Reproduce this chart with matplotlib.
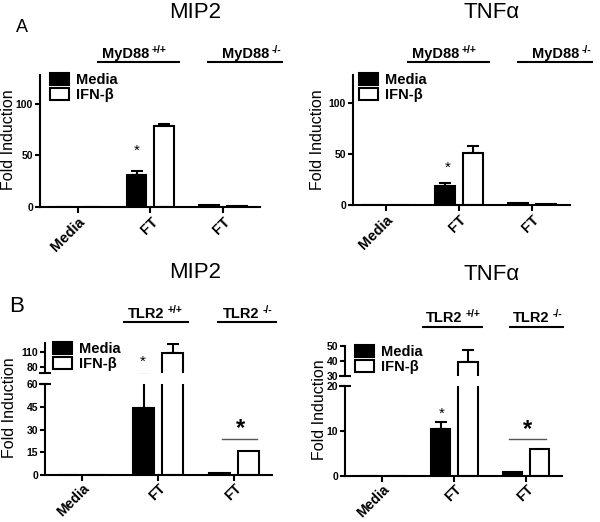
import numpy as np
import matplotlib
matplotlib.use("Agg")
import matplotlib.pyplot as plt
from matplotlib.patches import Patch

plt.rcParams['font.family'] = ['Liberation Sans', 'DejaVu Sans']

# ---------------- data ----------------
categories = ['Media', 'FT', 'FT']
series_labels = ['Media', 'IFN-β']

A_mip2_media = [0, 31, 1.5]
A_mip2_media_err = [0, 4, 0]
A_mip2_ifn = [0, 79, 1.0]
A_mip2_ifn_err = [0, 1.5, 0]

A_tnf_media = [0, 19, 1.5]
A_tnf_media_err = [0, 3, 0]
A_tnf_ifn = [0, 51, 1.0]
A_tnf_ifn_err = [0, 7, 0]

B_mip2_media = [0, 44, 1.5]
B_mip2_media_err = [0, 20, 0]
B_mip2_ifn = [0, 108, 16]
B_mip2_ifn_err = [0, 19, 0]

B_tnf_media = [0, 10.5, 1.0]
B_tnf_media_err = [0, 1.5, 0]
B_tnf_ifn = [0, 39.5, 6.0]
B_tnf_ifn_err = [0, 8, 0]

A_yticks = [0, 50, 100]
B_mip2_low_ticks = [0, 15, 30, 45, 60]
B_mip2_high_ticks = [80, 110]
B_tnf_low_ticks = [0, 10, 20]
B_tnf_high_ticks = [30, 40, 50]

# ---------------- layout ----------------
W, H = 600, 522
fig = plt.figure(figsize=(W / 100, H / 100), dpi=100)
LW = 1.5


def rect(x0, y0, x1, y1):
    return [x0 / W, 1 - y1 / H, (x1 - x0) / W, (y1 - y0) / H]


def fx(x):
    return x / W


def fy(y):
    return 1 - y / H


OFF = 0.19
BW = 0.27


def draw_bars(ax, media, media_err, ifn, ifn_err):
    x = np.arange(len(categories))
    media = np.array(media, float)
    ifn = np.array(ifn, float)
    me = np.array(media_err, float)
    ie = np.array(ifn_err, float)
    ax.bar(x - OFF, media, BW, color='black', edgecolor='black', linewidth=LW, zorder=2)
    ax.bar(x + OFF, ifn, BW, color='white', edgecolor='black', linewidth=LW, zorder=2)
    m = me > 0
    ax.errorbar((x - OFF)[m], media[m], yerr=[np.zeros(m.sum()), me[m]], fmt='none',
                ecolor='black', elinewidth=LW, capsize=4.5, capthick=LW, zorder=1)
    m = ie > 0
    ax.errorbar((x + OFF)[m], ifn[m], yerr=[np.zeros(m.sum()), ie[m]], fmt='none',
                ecolor='black', elinewidth=LW, capsize=4.5, capthick=LW, zorder=1)


def style_axis(ax, xlim, ylim, yticks, show_x=True, xfs=10.5, xpad=1.5):
    ax.set_xlim(*xlim)
    ax.set_ylim(*ylim)
    ax.set_yticks(yticks)
    ax.set_yticklabels([str(t) for t in yticks], fontsize=7.5, fontweight='bold')
    for s in ['top', 'right']:
        ax.spines[s].set_visible(False)
    ax.spines['left'].set_linewidth(LW)
    ax.spines['bottom'].set_linewidth(LW)
    ax.tick_params(axis='y', length=3.5, width=LW, pad=1.5)
    if show_x:
        ax.set_xticks(np.arange(len(categories)))
        ax.set_xticklabels(categories, rotation=45, ha='right', rotation_mode='anchor',
                           fontsize=xfs, fontweight='bold')
        ax.tick_params(axis='x', length=4, width=LW, pad=xpad)
    else:
        ax.spines['bottom'].set_visible(False)
        ax.set_xticks([])
    ax.patch.set_alpha(0)


def add_legend(ax, x_left, y_top):
    handles = [Patch(facecolor='black', edgecolor='black', linewidth=LW),
               Patch(facecolor='white', edgecolor='black', linewidth=LW)]
    leg = ax.legend(handles, series_labels, loc='upper left',
                    bbox_to_anchor=(fx(x_left), fy(y_top)), bbox_transform=fig.transFigure,
                    frameon=False, borderaxespad=0, borderpad=0,
                    prop={'size': 10.5, 'weight': 'bold'},
                    handlelength=1.3, handleheight=0.82, handletextpad=0.45,
                    labelspacing=0.08)
    return leg


overlay = fig.add_axes([0, 0, 1, 1], zorder=10)
overlay.set_xlim(0, W)
overlay.set_ylim(H, 0)
overlay.axis('off')
overlay.patch.set_alpha(0)


def group_label(x_text, y_base, main, sup, x0, x1, y_line):
    t = overlay.text(x_text, y_base, main, fontsize=10.5, fontweight='bold',
                     ha='left', va='baseline')
    overlay.annotate(sup, xy=(1, 0), xycoords=t, xytext=(2, 5.5), textcoords='offset points',
                     fontsize=7.5, fontweight='bold', ha='left', va='baseline')
    overlay.plot([x0, x1], [y_line, y_line], color='black', lw=LW, solid_capstyle='butt')


def break_caps(ax, where):
    ax.plot([0], [where], marker='_', markersize=8, mew=LW, color='black',
            transform=ax.transAxes, clip_on=False)


# ---------- Panel A, MIP2 ----------
axA1 = fig.add_axes(rect(40, 75, 260, 207))
draw_bars(axA1, A_mip2_media, A_mip2_media_err, A_mip2_ifn, A_mip2_ifn_err)
style_axis(axA1, (-0.52, 2.51), (0, 128), A_yticks)
add_legend(axA1, 50, 73)
axA1.text(0.81, 55, '*', ha='center', va='center', fontsize=11)

# ---------- Panel A, TNFa ----------
axA2 = fig.add_axes(rect(353, 75, 570, 205))
draw_bars(axA2, A_tnf_media, A_tnf_media_err, A_tnf_ifn, A_tnf_ifn_err)
style_axis(axA2, (-0.45, 2.52), (0, 128), A_yticks)
add_legend(axA2, 359, 73)
axA2.text(0.84, 37, '*', ha='center', va='center', fontsize=11)

# ---------- Panel B, MIP2 (broken axis) ----------
axB1 = fig.add_axes(rect(45, 384, 272, 475))
axB1h = fig.add_axes(rect(45, 343, 272, 373))
for ax in (axB1, axB1h):
    draw_bars(ax, B_mip2_media, B_mip2_media_err, B_mip2_ifn, B_mip2_ifn_err)
style_axis(axB1, (-0.49, 2.5), (0, 60), B_mip2_low_ticks, xfs=10, xpad=0.5)
style_axis(axB1h, (-0.49, 2.5), (68, 128), B_mip2_high_ticks, show_x=False)
break_caps(axB1, 1)
break_caps(axB1h, 0)
add_legend(axB1h, 53, 342)
axB1h.text(0.80, 90, '*', ha='center', va='center', fontsize=11)
axB1.plot([1.84, 2.30], [24, 24], color='#555555', lw=1.0)
axB1.text(2.08, 30.5, '*', ha='center', va='center', fontsize=17, fontweight='bold')

# ---------- Panel B, TNFa (broken axis) ----------
axB2 = fig.add_axes(rect(345, 386, 562, 476))
axB2h = fig.add_axes(rect(345, 346, 562, 376))
for ax in (axB2, axB2h):
    draw_bars(ax, B_tnf_media, B_tnf_media_err, B_tnf_ifn, B_tnf_ifn_err)
style_axis(axB2, (-0.52, 2.5), (0, 20), B_tnf_low_ticks, xfs=10, xpad=0.5)
style_axis(axB2h, (-0.52, 2.5), (30, 50), B_tnf_high_ticks, show_x=False)
break_caps(axB2, 1)
break_caps(axB2h, 0)
add_legend(axB2h, 355, 345)
axB2.text(0.83, 13.8, '*', ha='center', va='center', fontsize=11)
axB2.plot([1.76, 2.28], [8.2, 8.2], color='#555555', lw=1.0)
axB2.text(2.02, 10.4, '*', ha='center', va='center', fontsize=17, fontweight='bold')

# ---------- titles, panel letters, y labels, group labels ----------
overlay.text(195, 12, 'MIP2', fontsize=16, ha='center', va='center')
overlay.text(492, 12, 'TNFα', fontsize=16, ha='center', va='center')
overlay.text(195, 273, 'MIP2', fontsize=16, ha='center', va='center')
overlay.text(492, 275, 'TNFα', fontsize=16, ha='center', va='center')
overlay.text(22, 28, 'A', fontsize=13, ha='center', va='center')
overlay.text(17, 306, 'B', fontsize=16, ha='center', va='center')

for (x, y) in [(9, 140), (318, 140), (10, 408), (319, 410)]:
    overlay.text(x, y, 'Fold Induction', fontsize=11.5, rotation=90, ha='center', va='center')

group_label(102, 58, 'MyD88', '+/+', 97, 180, 62)
group_label(222, 58, 'MyD88', '-/-', 207, 283, 62)
group_label(412, 58, 'MyD88', '+/+', 407, 490, 62)
group_label(532, 58, 'MyD88', '-/-', 517, 593, 62)
group_label(128, 318, 'TLR2', '+/+', 123, 189, 322)
group_label(223, 318, 'TLR2', '-/-', 217, 277, 322)
group_label(426, 322, 'TLR2', '+/+', 422, 483, 327)
group_label(513, 322, 'TLR2', '-/-', 509, 564, 327)

fig.savefig('out.png', dpi=100, facecolor='white')
